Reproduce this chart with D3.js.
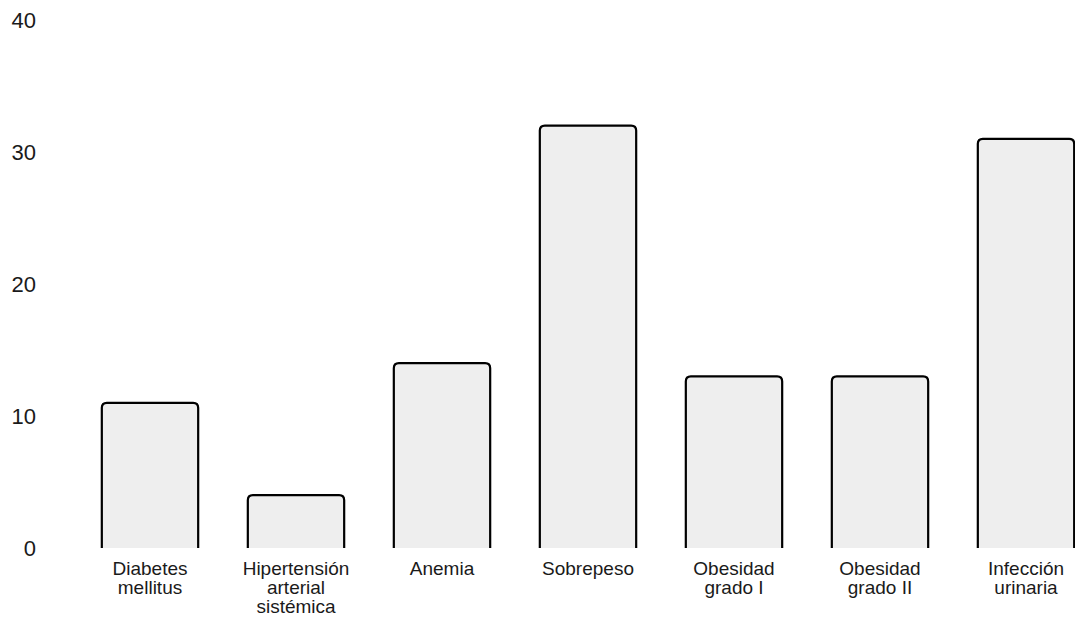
<!DOCTYPE html>
<html>
<head>
<meta charset="utf-8">
<script src="https://cdn.jsdelivr.net/npm/d3@7"></script>
<style>
  body { margin: 0; background: #fff; }
  text { font-family: "Liberation Sans", Arial, sans-serif; fill: #1a1a1a; }
</style>
</head>
<body>
<script>
// data
var categories = ["Diabetes mellitus", "Hipertensión arterial sistémica", "Anemia", "Sobrepeso",
    "Obesidad grado I", "Obesidad grado II", "Infección urinaria"];
var labelLines = [["Diabetes", "mellitus"], ["Hipertensión", "arterial", "sistémica"], ["Anemia"],
    ["Sobrepeso"], ["Obesidad", "grado I"], ["Obesidad", "grado II"], ["Infección", "urinaria"]];
var values = [11, 4, 14, 32, 13, 13, 31];
var yTicks = [0, 10, 20, 30, 40];

var w = 1075, h = 619;

var svg = d3.select("body")
    .append("svg")
    .attr("width", w)
    .attr("height", h);

var x = d3.scaleBand()
    .domain(categories)
    .range([77, 1099])
    .paddingInner(0.34)
    .paddingOuter(0.17);

var y = d3.scaleLinear()
    .domain([0, 40])
    .range([548, 20]);

// y labels, no axis line
svg.selectAll(".ytick")
    .data(yTicks)
    .enter()
    .append("text")
    .attr("class", "ytick")
    .attr("x", 36)
    .attr("y", function (d) { return y(d) })
    .attr("dy", "0.35em")
    .attr("text-anchor", "end")
    .style("font-size", "22px")
    .text(function (d) { return d });

// bars: open at the bottom, rounded top corners
var r = 5;
function barPath(d, i) {
    var x0 = x(categories[i]), x1 = x0 + x.bandwidth();
    var top = y(d), bot = y(0);
    return "M" + x0 + "," + bot +
        "V" + (top + r) +
        "Q" + x0 + "," + top + " " + (x0 + r) + "," + top +
        "H" + (x1 - r) +
        "Q" + x1 + "," + top + " " + x1 + "," + (top + r) +
        "V" + bot;
}

svg.selectAll("path.bar")
    .data(values)
    .enter()
    .append("path")
    .attr("class", "bar")
    .attr("d", barPath)
    .attr("fill", "#eeeeee")
    .attr("stroke", "#000")
    .attr("stroke-width", 2.2);

// category labels
var lab = svg.selectAll(".xlab")
    .data(labelLines)
    .enter()
    .append("text")
    .attr("class", "xlab")
    .attr("text-anchor", "middle")
    .style("font-size", "19px")
    .attr("transform", function (d, i) {
        return "translate(" + (x(categories[i]) + x.bandwidth() / 2) + ",575)";
    });

lab.selectAll("tspan")
    .data(function (d) { return d })
    .enter()
    .append("tspan")
    .attr("x", 0)
    .attr("y", function (d, i) { return i * 19 })
    .text(function (d) { return d });
</script>
</body>
</html>
